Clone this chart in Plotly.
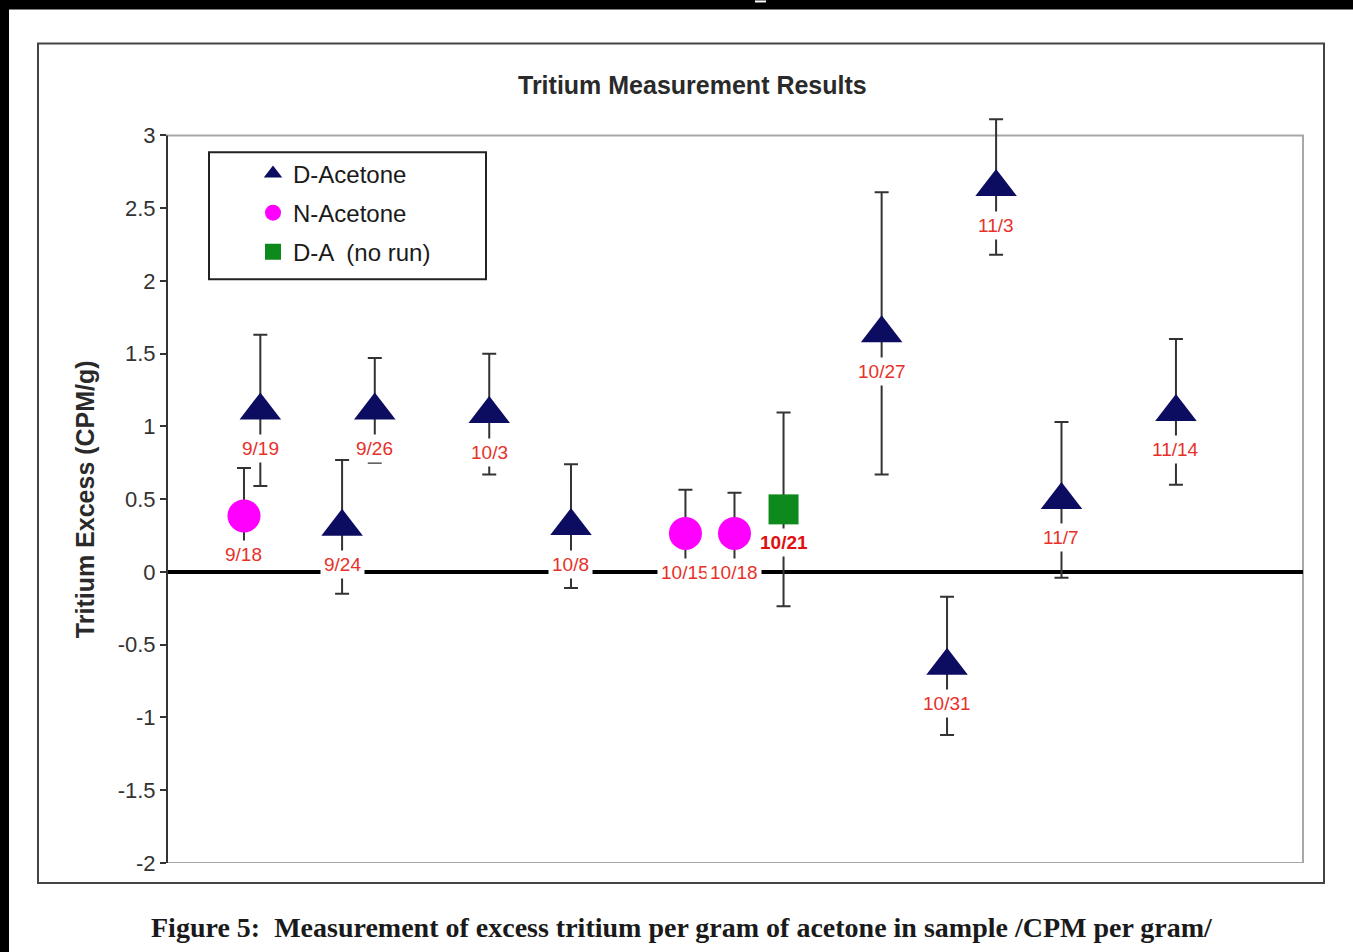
import plotly.graph_objects as go

# ---------------- data ----------------
dates_d = ["2007-09-19", "2007-09-24", "2007-09-26", "2007-10-03", "2007-10-08",
           "2007-10-27", "2007-10-31", "2007-11-03", "2007-11-07", "2007-11-14"]
vals_d = [1.11, 0.31, 1.11, 1.085, 0.315, 1.64, -0.645, 2.645, 0.495, 1.10]
err_d = [0.52, 0.46, 0.36, 0.415, 0.425, 0.97, 0.475, 0.465, 0.535, 0.50]
labels_d = ["9/19", "9/24", "9/26", "10/3", "10/8", "10/27", "10/31", "11/3", "11/7", "11/14"]

dates_n = ["2007-09-18", "2007-10-15", "2007-10-18"]
vals_n = [0.385, 0.265, 0.265]
err_n = [0.33, 0.30, 0.28]
labels_n = ["9/18", "10/15", "10/18"]

dates_a = ["2007-10-21"]
vals_a = [0.43]
err_a = [0.665]
labels_a = ["10/21"]

y_tickvals = [-2, -1.5, -1, -0.5, 0, 0.5, 1, 1.5, 2, 2.5, 3]
y_ticktext = ["-2", "-1.5", "-1", "-0.5", "0", "0.5", "1", "1.5", "2", "2.5", "3"]
y_min, y_max = -2, 3

title_text = "Tritium Measurement Results"
ytitle_text = "Tritium Excess (CPM/g)"
caption_text = "Figure 5:  Measurement of excess tritium per gram of acetone in sample /CPM per gram/"

# ---------------- figure ----------------
W, H = 1353, 952
L, R, T_VIS, B = 167, 1303, 135, 863      # visible plot box in pixels
HEADROOM = 0.25                           # extra axis room so the 11/3 error bar is not clipped
PX_PER_UNIT = (B - T_VIS) / (y_max - y_min)
T = T_VIS - HEADROOM * PX_PER_UNIT         # actual plotting domain top


def px(xpix):
    return (xpix - L) / (R - L)


def py(ypix):
    return (B - ypix) / (B - T)


SANS = "Liberation Sans, Arial, sans-serif"

err_style = dict(type="data", visible=True, color="#333333", thickness=2, width=7)

fig = go.Figure()
fig.add_trace(go.Scatter(
    x=dates_d, y=vals_d, mode="markers", name="D-Acetone", legendgroup="d",
    marker=dict(symbol="triangle-up", size=36, color="#0c0c60"),
    error_y=dict(array=err_d, **err_style), cliponaxis=False,
))
fig.add_trace(go.Scatter(
    x=dates_n, y=vals_n, mode="markers", name="N-Acetone", legendgroup="n",
    marker=dict(symbol="circle", size=33, color="#ff00ff"),
    error_y=dict(array=err_n, **err_style), cliponaxis=False,
))
fig.add_trace(go.Scatter(
    x=dates_a, y=vals_a, mode="markers", name="D-A  (no run)", legendgroup="a",
    marker=dict(symbol="square", size=30, color="#0e8a1c"),
    error_y=dict(array=err_a, **err_style), cliponaxis=False,
))

annotations = []
for xs, ys, ls, shift, bold in [(dates_d, vals_d, labels_d, -38, False),
                                (dates_n, vals_n, labels_n, -39, False),
                                (dates_a, vals_a, labels_a, -33, True)]:
    for xv, yv, lab in zip(xs, ys, ls):
        annotations.append(dict(
            x=xv, y=yv, xref="x", yref="y", text=("<b>%s</b>" % lab) if bold else lab,
            showarrow=False, yshift=shift, bgcolor="white", borderpad=3,
            xanchor="center", yanchor="middle",
            font=dict(family=SANS, size=19, color="#e8302a" if not bold else "#e01010"),
        ))

annotations.append(dict(
    x=px(692), y=py(85), xref="paper", yref="paper", text="<b>%s</b>" % title_text,
    xanchor="center", yanchor="middle",
    showarrow=False, font=dict(family=SANS, size=25, color="#2a2a2a"),
))
annotations.append(dict(
    x=px(85), y=py(499), xref="paper", yref="paper", text="<b>%s</b>" % ytitle_text,
    xanchor="center", yanchor="middle",
    showarrow=False, textangle=-90, font=dict(family=SANS, size=25, color="#2a2a2a"),
))
annotations.append(dict(
    x=px(682), y=py(928), xref="paper", yref="paper", text="<b>%s</b>" % caption_text,
    xanchor="center", yanchor="middle",
    showarrow=False, font=dict(family="Liberation Serif, Times New Roman, serif", size=28, color="#1a1a1a"),
))

shapes = [
    # plot-area border (gray), spanning the visible value range
    dict(type="rect", xref="paper", yref="y", x0=0, x1=1, y0=y_min, y1=y_max,
         line=dict(color="#a8a8a8", width=2), layer="below"),
    # value axis line (dark)
    dict(type="line", xref="paper", yref="y", x0=0, x1=0, y0=y_min, y1=y_max,
         line=dict(color="#333333", width=2), layer="above"),
    # legend box
    dict(type="rect", xref="paper", yref="paper", x0=px(209), x1=px(486), y0=py(279), y1=py(152),
         line=dict(color="#222222", width=2), fillcolor="rgba(0,0,0,0)", layer="above"),
    # outer chart frame
    dict(type="rect", xref="paper", yref="paper", x0=px(38), x1=px(1324), y0=py(883), y1=py(43),
         line=dict(color="#444444", width=2), layer="above"),
    # black scan borders (top and left)
    dict(type="rect", xref="paper", yref="paper", x0=px(-5), x1=px(W + 5), y0=py(9), y1=py(-5),
         fillcolor="black", line=dict(width=0), layer="above"),
    dict(type="rect", xref="paper", yref="paper", x0=px(-5), x1=px(9), y0=py(H + 5), y1=py(-5),
         fillcolor="black", line=dict(width=0), layer="above"),
    dict(type="rect", xref="paper", yref="paper", x0=px(755), x1=px(766), y0=py(2), y1=py(0),
         fillcolor="white", line=dict(width=0), layer="above"),
]

fig.update_layout(
    width=W, height=H,
    margin=dict(l=L, r=W - R, t=T, b=H - B, pad=0),
    paper_bgcolor="white", plot_bgcolor="white",
    showlegend=True,
    legend=dict(x=px(253), y=py(151), xanchor="left", yanchor="top",
                bgcolor="rgba(0,0,0,0)", borderwidth=0, tracegroupgap=5,
                font=dict(family=SANS, size=24, color="#1a1a1a")),
    xaxis=dict(type="date", range=["2007-09-13 07:00", "2007-11-21 18:30"],
               showticklabels=False, ticks="", showgrid=False, zeroline=False,
               showline=False),
    yaxis=dict(range=[y_min, y_max + HEADROOM], tickmode="array", tickvals=y_tickvals, ticktext=y_ticktext,
               ticks="outside", ticklen=6, tickwidth=2, tickcolor="#333333",
               showgrid=False, zeroline=True, zerolinecolor="black", zerolinewidth=4,
               showline=False,
               tickfont=dict(family=SANS, size=22, color="#333333")),
    annotations=annotations,
    shapes=shapes,
)

fig.write_html("out.html", config={"displayModeBar": False},
               post_script="document.body.style.margin='0';document.body.style.overflow='hidden';")
